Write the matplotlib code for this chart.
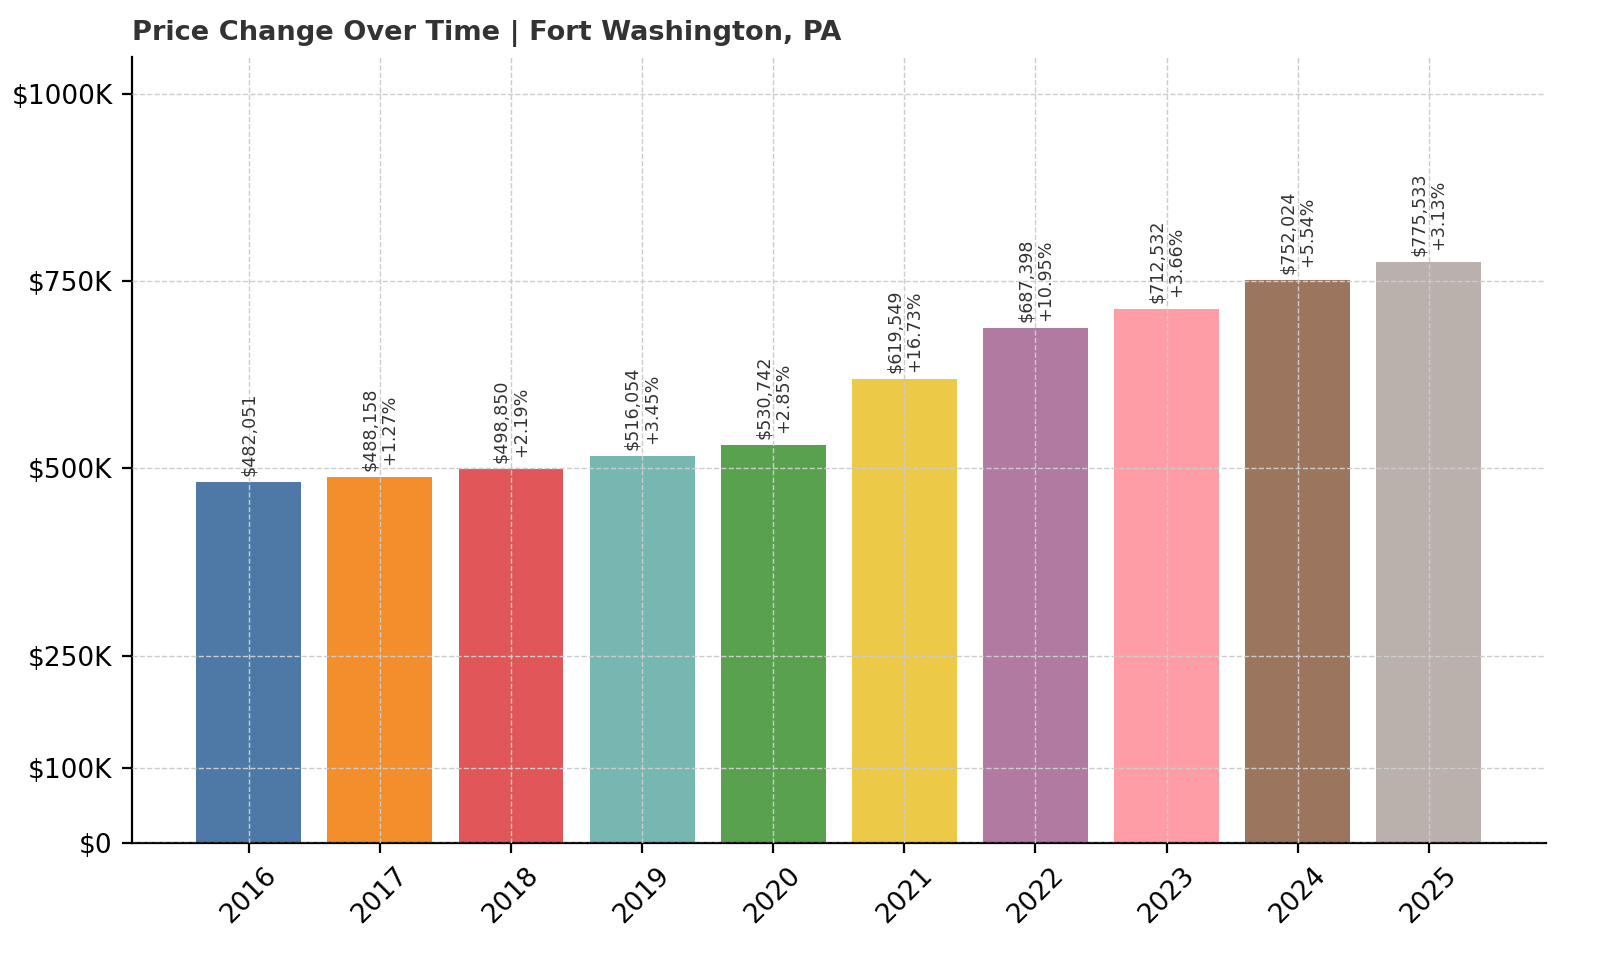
import matplotlib
matplotlib.use("Agg")
from matplotlib import pyplot as plt
from matplotlib.ticker import FuncFormatter

years = ["2016", "2017", "2018", "2019", "2020", "2021", "2022", "2023", "2024", "2025"]
prices = [482051, 488158, 498850, 516054, 530742, 619549, 687398, 712532, 752024, 775533]
changes = [None, "+1.27%", "+2.19%", "+3.45%", "+2.85%", "+16.73%", "+10.95%", "+3.66%", "+5.54%", "+3.13%"]
colors = ["#4e79a7", "#f28e2b", "#e15759", "#76b7b2", "#59a14f",
          "#edc948", "#b07aa1", "#ff9da7", "#9c755f", "#bab0ac"]
yticks = [0, 100000, 250000, 500000, 750000, 1000000]

fig = plt.figure(figsize=(8, 4.8), dpi=200)
ax = fig.add_axes([0.0825, 0.122, 0.8835, 0.819])

x = range(len(years))
ax.bar(x, prices, color=colors, width=0.8, zorder=2)

for i, p in enumerate(prices):
    label = f"${p:,}"
    if changes[i]:
        label += "\n" + changes[i]
    ax.text(i, p + 8000, label, rotation=90, ha="center", va="bottom",
            fontsize=6.3, color="#333333", linespacing=1.1, zorder=3)

ax.set_xticks(list(x))
ax.set_xticklabels(years, rotation=45, fontsize=9.5)
ax.set_yticks(yticks)
ax.yaxis.set_major_formatter(FuncFormatter(lambda v, _: "$0" if v == 0 else f"${int(v/1000)}K"))
ax.tick_params(axis="y", labelsize=9.5)
ax.set_ylim(0, 1050000)
ax.set_xlim(-0.89, 9.89)
ax.grid(True, linestyle="--", color="#cccccc", linewidth=0.5, zorder=0)
ax.set_axisbelow(False)
ax.spines["top"].set_visible(False)
ax.spines["right"].set_visible(False)
ax.set_title("Price Change Over Time | Fort Washington, PA", loc="left",
             fontsize=9.8, fontweight="bold", color="#333333")

fig.savefig("out.png", dpi=200)
